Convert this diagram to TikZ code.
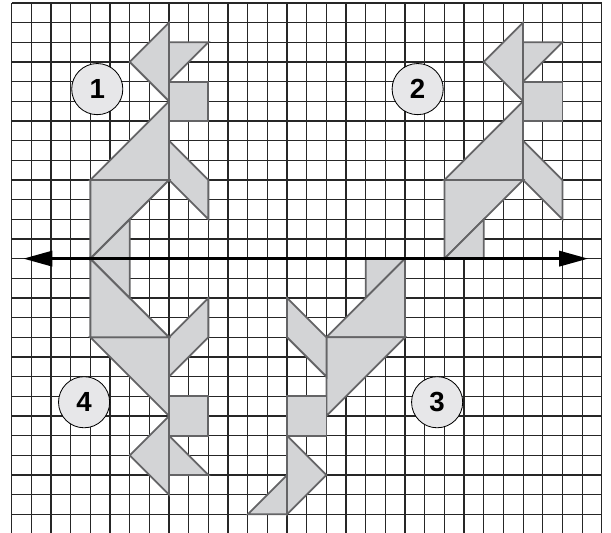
\documentclass[tikz,border=0pt]{standalone}
\usepackage{fontspec}
\setsansfont{Liberation Sans}
\usetikzlibrary{arrows.meta}
\definecolor{piecegray}{RGB}{211,212,214}
\definecolor{edgegray}{RGB}{100,100,102}
\definecolor{numgray}{RGB}{231,231,233}

\begin{document}
\begin{tikzpicture}[x=0.5cm,y=0.5cm,
  gridline/.style={black!85,line width=0.85pt},
  piece/.style={fill=piecegray,draw=edgegray,line width=1.3pt,line join=miter},
  num/.style={circle,draw=black,line width=0.6pt,fill=numgray,minimum size=1.3cm,inner sep=0pt,font=\sffamily\bfseries\fontsize{20}{20}\selectfont},
  axis/.style={line width=2pt,{Triangle[length=21pt,width=11pt]}-{Triangle[length=21pt,width=11pt]}}]
\useasboundingbox (-0.595,-13.93) rectangle (30.47,13.15);
% grid
\foreach \x in {0,...,30} {
	\draw[gridline] (\x,-13.93) -- (\x,13);
}
\foreach \y in {-13,...,13} {
	\draw[gridline] (0,\y) -- (30,\y);
}
% figures 1 and 2 (2 is 1 moved 18 squares right)
\foreach \s in {0,9} {
\begin{scope}[xshift=\s cm]
	\filldraw[piece] (8,12) -- (6,10) -- (8,8) -- cycle;
	\filldraw[piece] (8,11) -- (10,11) -- (8,9) -- cycle;
	\filldraw[piece] (8,9) -- (10,9) -- (10,7) -- (8,7) -- cycle;
	\filldraw[piece] (8,8) -- (4,4) -- (8,4) -- cycle;
	\filldraw[piece] (8,6) -- (10,4) -- (10,2) -- (8,4) -- cycle;
	\filldraw[piece] (4,4) -- (8,4) -- (4,0) -- cycle;
	\filldraw[piece] (4,0) -- (6,2) -- (6,0) -- cycle;
\end{scope}
}
% figure 4 (1 reflected in the line)
\begin{scope}[yscale=-1]
	\filldraw[piece] (8,12) -- (6,10) -- (8,8) -- cycle;
	\filldraw[piece] (8,11) -- (10,11) -- (8,9) -- cycle;
	\filldraw[piece] (8,9) -- (10,9) -- (10,7) -- (8,7) -- cycle;
	\filldraw[piece] (8,8) -- (4,4) -- (8,4) -- cycle;
	\filldraw[piece] (8,6) -- (10,4) -- (10,2) -- (8,4) -- cycle;
	\filldraw[piece] (4,4) -- (8,4) -- (4,0) -- cycle;
	\filldraw[piece] (4,0) -- (6,2) -- (6,0) -- cycle;
\end{scope}
% figure 3
\filldraw[piece] (18,0) -- (20,0) -- (18,-2) -- cycle;
\filldraw[piece] (20,0) -- (20,-4) -- (16,-4) -- cycle;
\filldraw[piece] (16,-4) -- (20,-4) -- (16,-8) -- cycle;
\filldraw[piece] (16,-4) -- (14,-2) -- (14,-4) -- (16,-6) -- cycle;
\filldraw[piece] (14,-7) -- (16,-7) -- (16,-9) -- (14,-9) -- cycle;
\filldraw[piece] (14,-9) -- (16,-11) -- (14,-13) -- cycle;
\filldraw[piece] (12,-13) -- (14,-11) -- (14,-13) -- cycle;
% line of reflection
\coordinate (axl) at (0.59,0);
\coordinate (axr) at (29.31,0);
\draw[axis] (axl) -- (axr);
% labels
\node[num] (n1) at (4.35,8.62) {1};
\node[num] (n2) at (20.64,8.62) {2};
\node[num] (n3) at (21.63,-7.3) {3};
\node[num] (n4) at (3.68,-7.3) {4};
\end{tikzpicture}
\end{document}
